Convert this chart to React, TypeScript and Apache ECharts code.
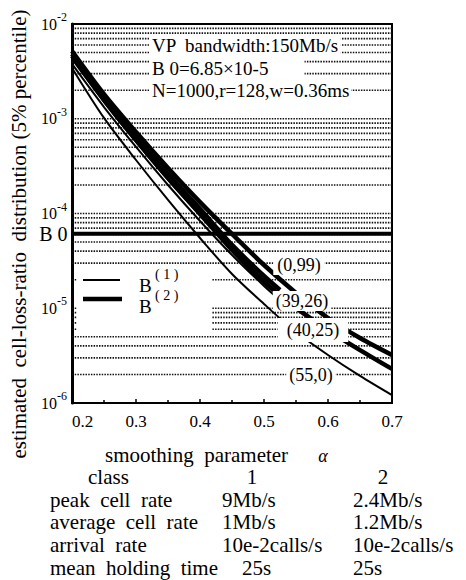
import React, { useEffect, useRef } from "react";
import * as echarts from "echarts";

// x positions (smoothing parameter alpha)
const ALPHA_FULL = [0.2, 0.25, 0.3, 0.35, 0.4, 0.45, 0.5, 0.55, 0.6, 0.65, 0.7];
const ALPHA_SHORT = [0.2, 0.25, 0.3, 0.35, 0.4, 0.45, 0.5, 0.525];

// B(2) curves (thick)
const B2_0_99 = [5.19e-3, 1.82e-3, 7.24e-4, 3.02e-4, 1.32e-4, 6.08e-5, 2.86e-5, 1.45e-5, 7.89e-6, 4.85e-6, 3.21e-6];
const B2_39_26 = [4.82e-3, 1.7e-3, 6.41e-4, 2.61e-4, 1.12e-4, 4.66e-5, 2.19e-5, 1.56e-5];
const B2_40_25 = [4.59e-3, 1.58e-3, 5.97e-4, 2.37e-4, 9.89e-5, 4.12e-5, 1.89e-5, 1.01e-5, 5.89e-6, 3.62e-6, 2.29e-6];
// B(1) curves (thin)
const B1_39_26 = [4.28e-3, 1.5e-3, 5.69e-4, 2.26e-4, 9.64e-5, 4.22e-5, 1.99e-5, 1.41e-5];
const B1_40_25 = [3.79e-3, 1.33e-3, 5.04e-4, 2.0e-4, 8.34e-5, 3.65e-5, 1.72e-5, 1.22e-5];
const B1_55_0 = [3.44e-3, 1.02e-3, 3.67e-4, 1.39e-4, 5.51e-5, 2.3e-5, 1.11e-5, 5.61e-6, 3.21e-6, 1.93e-6, 1.21e-6];

const B0_LEVEL = 6.1e-5;
const GRID_MULTIPLIERS = [1, 2, 3, 4, 5, 6, 7, 8, 9];
const GRID_DECADES = [-6, -5, -4, -3];

const X_TICKS = ["0.2", "0.3", "0.4", "0.5", "0.6", "0.7"];

const CURVE_LABELS = ["(0,99)", "(39,26)", "(40,25)", "(55,0)"];
const INFO_LINES = ["VP  bandwidth:150Mb/s", "B 0=6.85×10-5", "N=1000,r=128,w=0.36ms"];
const LEGEND_NAMES = ["B(1)", "B(2)"];

const TABLE_ROWS = ["peak  cell  rate", "average  cell  rate", "arrival  rate", "mean  holding  time"];
const CLASS_HEADERS = ["1", "2"];
const CLASS1_VALUES = ["9Mb/s", "1Mb/s", "10e-2calls/s", "25s"];
const CLASS2_VALUES = ["2.4Mb/s", "1.2Mb/s", "10e-2calls/s", "25s"];

const SERIF = "Liberation Serif";

function pairs(xs: number[], ys: number[]) {
  return ys.map((y, i) => [xs[i], y]);
}

export default function App() {
  const ref = useRef<HTMLDivElement>(null);

  useEffect(() => {
    if (!ref.current) return;
    const chart = echarts.init(ref.current, null, { renderer: "svg" });

    const gridValues: number[] = [];
    GRID_DECADES.forEach((d) => {
      GRID_MULTIPLIERS.forEach((m) => {
        if (d === -6 && m === 1) return;
        gridValues.push(m * Math.pow(10, d));
      });
    });

    const thin = { color: "#000", width: 2 };
    const thick = { color: "#000", width: 4.5 };

    const curve = (id: string, name: string, xs: number[], ys: number[], ls: any) => ({
      id,
      name,
      type: "line",
      data: pairs(xs, ys),
      showSymbol: false,
      symbol: "none",
      smooth: 0.3,
      lineStyle: ls,
      itemStyle: { color: "#000" },
      silent: true,
      z: 3,
    });

    const txt = (text: string, x: number, y: number, size: number, align = "left", extra: any = {}) => ({
      type: "text",
      x,
      y,
      z: 100,
      style: {
        text,
        font: `${size}px ${SERIF}`,
        fill: "#000",
        textAlign: align,
        textVerticalAlign: "middle",
        ...extra,
      },
    });

    const graphics: any[] = [];
    // y axis name
    graphics.push({
      ...txt("estimated  cell-loss-ratio  distribution (5% percentile)", 19, 234, 21, "center"),
      rotation: Math.PI / 2,
    });
    // x axis name
    graphics.push(txt("smoothing  parameter", 105, 455, 21));
    graphics.push(txt("α", 323, 456, 18, "center", { font: `italic 18px ${SERIF}` }));
    // info box
    const infoY = [45, 68, 90];
    const infoPad = [
      [1, 2, 1, 3],
      [1, 36, 1, 3],
      [1, 2, 1, 3],
    ];
    INFO_LINES.forEach((t, i) => {
      graphics.push(txt(t, 149, infoY[i], 19, "left", { backgroundColor: "#fff", padding: infoPad[i] }));
    });
    // curve labels
    const labelPos: any[] = [
      [299, 265, [1, 4]],
      [302, 301, [1, 3]],
      [313, 330, [3, 9]],
      [311, 375, [1, 3]],
    ];
    CURVE_LABELS.forEach((t, i) => {
      const p = labelPos[i];
      graphics.push(txt(t, p[0], p[1], 18, "center", { backgroundColor: "#fff", padding: p[2] }));
    });
    // legend
    graphics.push({ type: "rect", z: 90, shape: { x: 77, y: 268, width: 135, height: 65 }, style: { fill: "#fff" } });
    graphics.push({ type: "line", z: 95, shape: { x1: 83, y1: 280, x2: 120, y2: 280 }, style: { stroke: "#000", lineWidth: 2 } });
    graphics.push({ type: "line", z: 95, shape: { x1: 83, y1: 299, x2: 122, y2: 299 }, style: { stroke: "#000", lineWidth: 4.5 } });
    LEGEND_NAMES.forEach((n, i) => {
      const sup = n.slice(1).split("").join(" ");
      const y = [285, 306][i];
      graphics.push(txt("B", 139, y, 19));
      graphics.push(txt(sup, 155, y - 11, 14));
    });
    // table
    const rowY = [477, 500, 522, 545, 568];
    graphics.push(txt("class", 88, rowY[0], 21));
    const headerX = [252, 383];
    CLASS_HEADERS.forEach((h, i) => graphics.push(txt(h, headerX[i], rowY[0], 21, "center")));
    TABLE_ROWS.forEach((r, i) => {
      const y = rowY[i + 1];
      graphics.push(txt(r, 50, y, 21));
      graphics.push(txt(CLASS1_VALUES[i], i === 3 ? 242 : 222, y, 21));
      graphics.push(txt(CLASS2_VALUES[i], 353, y, 21));
    });

    const gridSeries = gridValues.map((v, i) => ({
      id: `grid-${i}`,
      type: "line",
      data: [
        [0.2, v],
        [0.7, v],
      ],
      symbol: "none",
      showSymbol: false,
      silent: true,
      lineStyle: { color: "#111", width: 1.7, type: [1.5, 1.2] },
      z: 1,
    }));

    const b0Series = {
      id: "b0",
      type: "line",
      data: [
        {
          value: [0.2, B0_LEVEL],
          label: {
            show: true,
            position: "left",
            distance: 4,
            formatter: "B 0",
            fontFamily: SERIF,
            fontSize: 20,
            color: "#000",
          },
        },
        { value: [0.7, B0_LEVEL] },
      ],
      symbol: "circle",
      symbolSize: 1,
      showSymbol: true,
      silent: true,
      itemStyle: { color: "#000" },
      lineStyle: { color: "#000", width: 4, type: "solid" },
      z: 2,
    };

    const option: any = {
      animation: false,
      backgroundColor: "#fff",
      grid: {
        left: 72,
        top: 24,
        width: 320,
        height: 379,
        show: true,
        borderColor: "#000",
        borderWidth: 2,
        backgroundColor: "transparent",
      },
      xAxis: {
        type: "value",
        min: 0.2,
        max: 0.7,
        interval: 0.1,
        axisLine: { show: true, lineStyle: { color: "#000", width: 2 } },
        axisTick: { show: true, inside: true, length: 4, lineStyle: { color: "#000", width: 1.5 } },
        minorTick: { show: true, splitNumber: 2, length: 3, lineStyle: { color: "#000", width: 1.5 } },
        splitLine: { show: false },
        axisLabel: {
          color: "#000",
          fontFamily: SERIF,
          fontSize: 17,
          margin: 10,
          alignMinLabel: "left",
          formatter: (v: number) => X_TICKS[Math.round((v - 0.2) * 10)] ?? v.toFixed(1),
        },
      },
      yAxis: {
        type: "log",
        logBase: 10,
        min: 1e-6,
        max: 1e-2,
        axisLine: { show: true, lineStyle: { color: "#000", width: 3 } },
        axisTick: { show: false },
        splitLine: { show: false },
        axisLabel: {
          color: "#000",
          margin: 5,
          formatter: (v: number) => `{b|10}{s|${Math.round(Math.log10(v))}}`,
          rich: {
            b: { fontFamily: SERIF, fontSize: 16, color: "#000" },
            s: { fontFamily: SERIF, fontSize: 12, color: "#000", padding: [0, 0, 14, 0] },
          },
        },
      },
      graphic: { elements: graphics },
      series: [
        ...gridSeries,
        b0Series,
        curve("b2-0-99", "B(2)", ALPHA_FULL, B2_0_99, thick),
        curve("b2-39-26", "B(2)", ALPHA_SHORT, B2_39_26, thick),
        curve("b2-40-25", "B(2)", ALPHA_FULL, B2_40_25, thick),
        curve("b1-39-26", "B(1)", ALPHA_SHORT, B1_39_26, thin),
        curve("b1-40-25", "B(1)", ALPHA_SHORT, B1_40_25, thin),
        curve("b1-55-0", "B(1)", ALPHA_FULL, B1_55_0, thin),
      ],
    };

    chart.setOption(option);
    return () => chart.dispose();
  }, []);

  return (
    <div
      ref={ref}
      style={{ position: "absolute", left: 0, top: 0, width: 466, height: 580, background: "#fff" }}
    />
  );
}
